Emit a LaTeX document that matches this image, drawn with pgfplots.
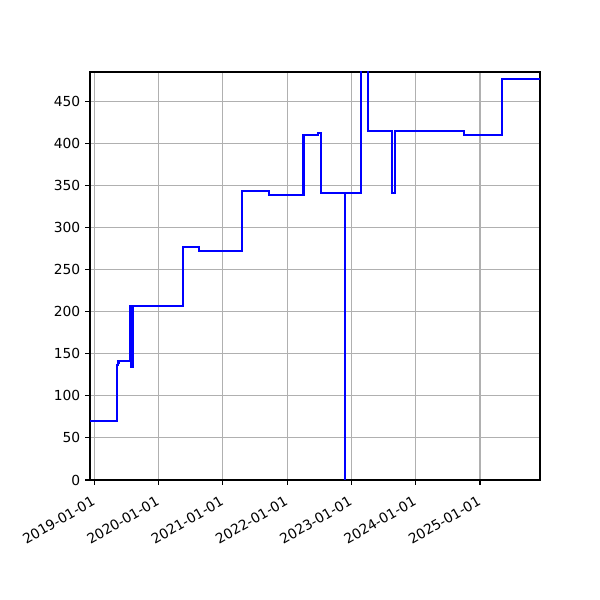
\documentclass[border=0pt]{standalone}
\usepackage{fontspec}
\setmainfont{DejaVu Sans}
\usepackage{pgfplots}
\pgfplotsset{compat=1.18}
\usepackage{pgfplotstable}

% days since 2019-01-01, value (steps-post)
\pgfplotstableread{
day   val
-24   70
131   136.5
134   139
138   141
143   141.6
201   206.7
212   134.5
222   206.7
503   277.2
594   272.4
842   343.3
995   339.1
1189  409.6
1274  412.4
1287  341
1425  0
1427  341
1518  600
1554  414.8
1694  341.6
1708  414.8
2103  409.6
2319  476.5
2533  476.5
}\series

\begin{document}
\begin{tikzpicture}
\begin{axis}[
	scale only axis,
	width=4.5in, height=4.08in,
	xmin=-24, xmax=2533,
	ymin=0, ymax=485,
	xtick={0,365,731,1096,1461,1826,2192},
	xticklabels={2019-01-01,2020-01-01,2021-01-01,2022-01-01,2023-01-01,2024-01-01,2025-01-01},
	ytick={0,50,...,450},
	xticklabel style={rotate=30, anchor=north east, xshift=-2.5pt, yshift=-2pt, font=\fontsize{10}{12}\selectfont},
	yticklabel style={font=\fontsize{10}{12}\selectfont},
	/pgf/number format/assume math mode=true,
	tick align=outside, xtick pos=left, ytick pos=left,
	major tick length=3.5pt,
	every tick/.style={black, line width=0.8pt},
	axis line style={line width=0.8pt},
	grid=major,
	major grid style={color=black!31, line width=0.8pt},
	clip=true,
]
	\addplot[const plot mark left, blue, line width=1.5pt, line join=miter] table[x=day, y=val] {\series};
	\coordinate (sw) at (rel axis cs:0,0);
\end{axis}
\pgfresetboundingbox
\path (sw) ++(-0.9in,-1.2in) rectangle ++(6in,6in);
\end{tikzpicture}
\end{document}
